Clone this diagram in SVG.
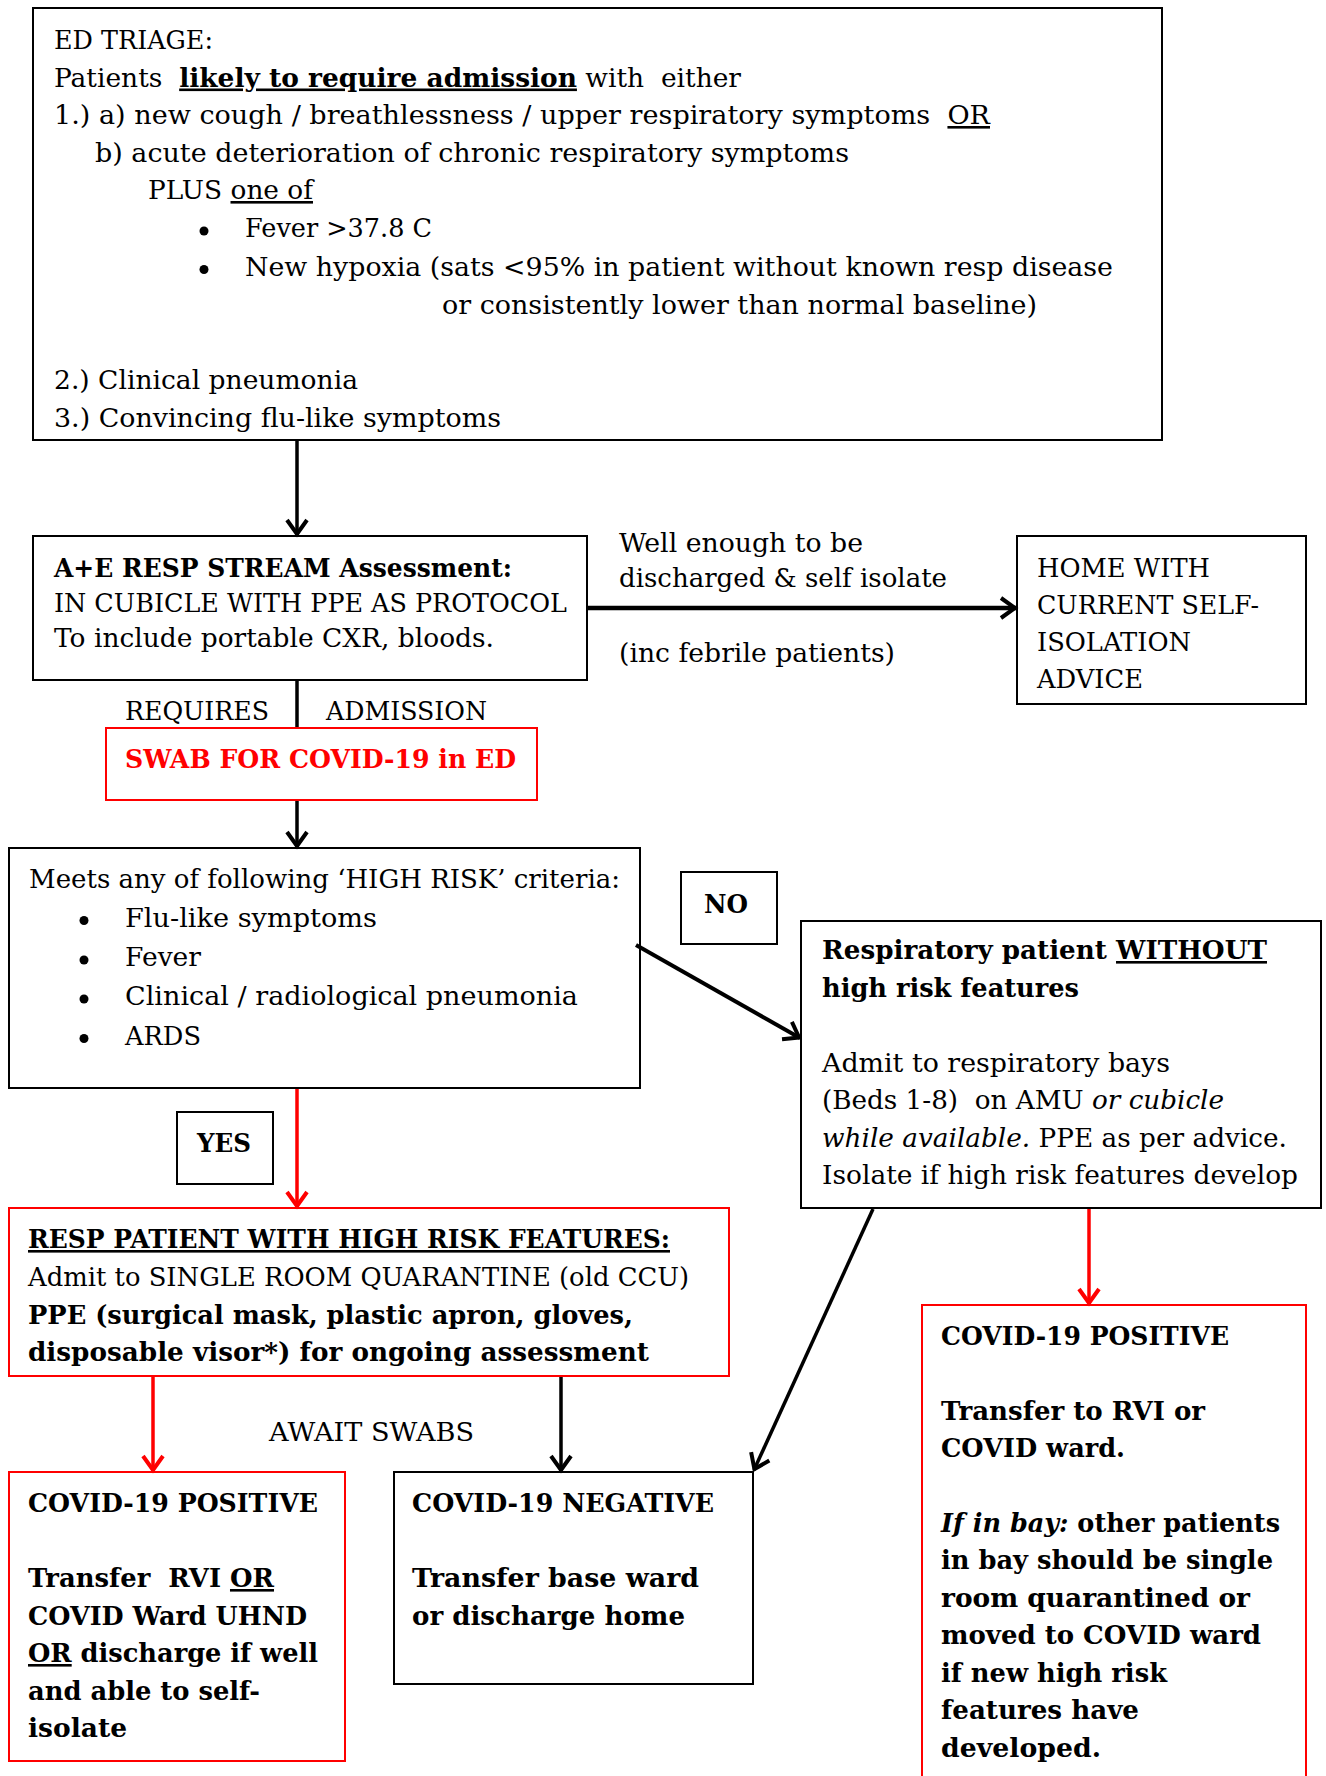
<svg xmlns="http://www.w3.org/2000/svg" width="1326" height="1776" viewBox="0 0 1326 1776">
<style>
.t{font-family:"DejaVu Serif","Liberation Serif",serif;font-size:26px;fill:#000}
.b{font-weight:bold}
.u{text-decoration:underline}
.i{font-style:italic}
.red{fill:#ff0000}
.box{fill:#fff;stroke:#000;stroke-width:2}
.rbox{fill:#fff;stroke:#ff0000;stroke-width:2}
.ln{fill:none;stroke:#000;stroke-width:3.5}
.rln{fill:none;stroke:#ff0000;stroke-width:3.5}
</style>
<defs>
<marker id="ah" markerUnits="userSpaceOnUse" viewBox="-20 -14 24 28" markerWidth="24" markerHeight="28" refX="0" refY="0" orient="auto" overflow="visible">
<path d="M-15,-10 L-1,0 L-15,10" fill="none" stroke="#000" stroke-width="4"/>
</marker>
<marker id="ahr" markerUnits="userSpaceOnUse" viewBox="-20 -14 24 28" markerWidth="24" markerHeight="28" refX="0" refY="0" orient="auto" overflow="visible">
<path d="M-15,-10 L-1,0 L-15,10" fill="none" stroke="#ff0000" stroke-width="4"/>
</marker>
</defs>
<rect x="0" y="0" width="1326" height="1776" fill="#fff"/>

<g id="triage">
<rect class="box" x="33" y="8" width="1129" height="432"/>
<text class="t" x="54" y="49" textLength="159" lengthAdjust="spacingAndGlyphs">ED TRIAGE:</text>
<text class="t" x="54" y="86.5" textLength="687" lengthAdjust="spacingAndGlyphs" xml:space="preserve">Patients  <tspan class="b u">likely to require admission</tspan> with  either</text>
<text class="t" x="54" y="124" textLength="936" lengthAdjust="spacingAndGlyphs" xml:space="preserve">1.) a) new cough / breathlessness / upper respiratory symptoms  <tspan class="u">OR</tspan></text>
<text class="t" x="95" y="161.5" textLength="754" lengthAdjust="spacingAndGlyphs">b) acute deterioration of chronic respiratory symptoms</text>
<text class="t" x="148" y="199" textLength="165" lengthAdjust="spacingAndGlyphs" xml:space="preserve">PLUS <tspan class="u">one of</tspan></text>
<circle cx="204" cy="231" r="4.5" fill="#000"/>
<text class="t" x="245" y="237" textLength="187" lengthAdjust="spacingAndGlyphs">Fever &gt;37.8 C</text>
<circle cx="204" cy="269.5" r="4.5" fill="#000"/>
<text class="t" x="245" y="275.5" textLength="868" lengthAdjust="spacingAndGlyphs">New hypoxia (sats &lt;95% in patient without known resp disease</text>
<text class="t" x="442" y="313.5" textLength="595" lengthAdjust="spacingAndGlyphs">or consistently lower than normal baseline)</text>
<text class="t" x="54" y="389" textLength="304" lengthAdjust="spacingAndGlyphs">2.) Clinical pneumonia</text>
<text class="t" x="54" y="426.5" textLength="447" lengthAdjust="spacingAndGlyphs">3.) Convincing flu-like symptoms</text>
</g>

<g id="assessment">
<rect class="box" x="33" y="536" width="554" height="144"/>
<text class="t b" x="54" y="576.5" textLength="458" lengthAdjust="spacingAndGlyphs">A+E RESP STREAM Assessment:</text>
<text class="t" x="54" y="611.5" textLength="513" lengthAdjust="spacingAndGlyphs">IN CUBICLE WITH PPE AS PROTOCOL</text>
<text class="t" x="54" y="646.5" textLength="440" lengthAdjust="spacingAndGlyphs">To include portable CXR, bloods.</text>
</g>

<g id="home">
<rect class="box" x="1017" y="536" width="289" height="168"/>
<text class="t" x="1037" y="576.5" textLength="173" lengthAdjust="spacingAndGlyphs">HOME WITH</text>
<text class="t" x="1037" y="613.5" textLength="222" lengthAdjust="spacingAndGlyphs">CURRENT SELF-</text>
<text class="t" x="1037" y="651" textLength="154" lengthAdjust="spacingAndGlyphs">ISOLATION</text>
<text class="t" x="1037" y="688" textLength="106" lengthAdjust="spacingAndGlyphs">ADVICE</text>
</g>

<g id="swab">
<rect class="rbox" x="106" y="728" width="431" height="72"/>
<text class="t b red" x="125" y="768" textLength="391" lengthAdjust="spacingAndGlyphs">SWAB FOR COVID-19 in ED</text>
</g>

<g id="highrisk-criteria">
<rect class="box" x="9" y="848" width="631" height="240"/>
<text class="t" x="29" y="888" textLength="591" lengthAdjust="spacingAndGlyphs">Meets any of following ‘HIGH RISK’ criteria:</text>
<circle cx="84" cy="920.5" r="4.5" fill="#000"/>
<text class="t" x="125" y="926.5" textLength="252" lengthAdjust="spacingAndGlyphs">Flu-like symptoms</text>
<circle cx="84" cy="960" r="4.5" fill="#000"/>
<text class="t" x="125" y="966" textLength="76" lengthAdjust="spacingAndGlyphs">Fever</text>
<circle cx="84" cy="999" r="4.5" fill="#000"/>
<text class="t" x="125" y="1005" textLength="453" lengthAdjust="spacingAndGlyphs">Clinical / radiological pneumonia</text>
<circle cx="84" cy="1038.5" r="4.5" fill="#000"/>
<text class="t" x="125" y="1044.5" textLength="76" lengthAdjust="spacingAndGlyphs">ARDS</text>
</g>

<g id="no-label">
<rect class="box" x="681" y="872" width="96" height="72"/>
<text class="t b" x="704" y="912.5" textLength="44" lengthAdjust="spacingAndGlyphs">NO</text>
</g>

<g id="without-high-risk">
<rect class="box" x="801" y="921" width="520" height="287"/>
<text class="t b" x="822" y="959" textLength="445" lengthAdjust="spacingAndGlyphs" xml:space="preserve">Respiratory patient <tspan class="u">WITHOUT</tspan></text>
<text class="t b" x="822" y="996.5" textLength="257" lengthAdjust="spacingAndGlyphs">high risk features</text>
<text class="t" x="822" y="1071.5" textLength="348" lengthAdjust="spacingAndGlyphs">Admit to respiratory bays</text>
<text class="t" x="822" y="1109" textLength="402" lengthAdjust="spacingAndGlyphs" xml:space="preserve">(Beds 1-8)  on AMU <tspan class="i">or cubicle</tspan></text>
<text class="t" x="822" y="1146.5" textLength="465" lengthAdjust="spacingAndGlyphs"><tspan class="i">while available.</tspan> PPE as per advice.</text>
<text class="t" x="822" y="1184" textLength="476" lengthAdjust="spacingAndGlyphs">Isolate if high risk features develop</text>
</g>

<g id="yes-label">
<rect class="box" x="177" y="1112" width="96" height="72"/>
<text class="t b" x="197" y="1151.5" textLength="54" lengthAdjust="spacingAndGlyphs">YES</text>
</g>

<g id="with-high-risk">
<rect class="rbox" x="9" y="1208" width="720" height="168"/>
<text class="t b u" x="28" y="1248" textLength="642" lengthAdjust="spacingAndGlyphs">RESP PATIENT WITH HIGH RISK FEATURES:</text>
<text class="t" x="28" y="1286" textLength="661" lengthAdjust="spacingAndGlyphs">Admit to SINGLE ROOM QUARANTINE (old CCU)</text>
<text class="t b" x="28" y="1323.5" textLength="605" lengthAdjust="spacingAndGlyphs">PPE (surgical mask, plastic apron, gloves,</text>
<text class="t b" x="28" y="1361" textLength="621" lengthAdjust="spacingAndGlyphs">disposable visor*) for ongoing assessment</text>
</g>

<g id="positive-left">
<rect class="rbox" x="9" y="1472" width="336" height="289"/>
<text class="t b" x="28" y="1512" textLength="290" lengthAdjust="spacingAndGlyphs">COVID-19 POSITIVE</text>
<text class="t b" x="28" y="1587" textLength="246" lengthAdjust="spacingAndGlyphs" xml:space="preserve">Transfer  RVI <tspan class="u">OR</tspan></text>
<text class="t b" x="28" y="1624.5" textLength="279" lengthAdjust="spacingAndGlyphs">COVID Ward UHND</text>
<text class="t b" x="28" y="1662" textLength="290" lengthAdjust="spacingAndGlyphs"><tspan class="u">OR</tspan> discharge if well</text>
<text class="t b" x="28" y="1699.5" textLength="232" lengthAdjust="spacingAndGlyphs">and able to self-</text>
<text class="t b" x="28" y="1737" textLength="99" lengthAdjust="spacingAndGlyphs">isolate</text>
</g>

<g id="negative">
<rect class="box" x="394" y="1472" width="359" height="212"/>
<text class="t b" x="412" y="1512" textLength="302" lengthAdjust="spacingAndGlyphs">COVID-19 NEGATIVE</text>
<text class="t b" x="412" y="1587" textLength="287" lengthAdjust="spacingAndGlyphs">Transfer base ward</text>
<text class="t b" x="412" y="1624.5" textLength="273" lengthAdjust="spacingAndGlyphs">or discharge home</text>
</g>

<g id="positive-right">
<rect class="rbox" x="922" y="1305" width="384" height="500"/>
<text class="t b" x="941" y="1344.5" textLength="288" lengthAdjust="spacingAndGlyphs">COVID-19 POSITIVE</text>
<text class="t b" x="941" y="1419.5" textLength="264" lengthAdjust="spacingAndGlyphs">Transfer to RVI or</text>
<text class="t b" x="941" y="1457" textLength="184" lengthAdjust="spacingAndGlyphs">COVID ward.</text>
<text class="t b" x="941" y="1532" textLength="339" lengthAdjust="spacingAndGlyphs"><tspan class="i">If in bay:</tspan> other patients</text>
<text class="t b" x="941" y="1569" textLength="332" lengthAdjust="spacingAndGlyphs">in bay should be single</text>
<text class="t b" x="941" y="1606.5" textLength="309" lengthAdjust="spacingAndGlyphs">room quarantined or</text>
<text class="t b" x="941" y="1644" textLength="320" lengthAdjust="spacingAndGlyphs">moved to COVID ward</text>
<text class="t b" x="941" y="1681.5" textLength="226" lengthAdjust="spacingAndGlyphs">if new high risk</text>
<text class="t b" x="941" y="1719" textLength="198" lengthAdjust="spacingAndGlyphs">features have</text>
<text class="t b" x="941" y="1756.5" textLength="160" lengthAdjust="spacingAndGlyphs">developed.</text>
</g>

<g id="connectors">
<line class="ln" x1="297" y1="441" x2="297" y2="535" marker-end="url(#ah)"/>
<line class="ln" x1="588" y1="608" x2="1016" y2="608" style="stroke-width:4.5" marker-end="url(#ah)"/>
<text class="t" x="619" y="551.5" textLength="244" lengthAdjust="spacingAndGlyphs">Well enough to be</text>
<text class="t" x="619" y="587" textLength="328" lengthAdjust="spacingAndGlyphs">discharged &amp; self isolate</text>
<text class="t" x="619" y="662" textLength="276" lengthAdjust="spacingAndGlyphs">(inc febrile patients)</text>
<line class="ln" x1="297" y1="681" x2="297" y2="727"/>
<text class="t" x="125" y="720" textLength="144" lengthAdjust="spacingAndGlyphs">REQUIRES</text>
<text class="t" x="326" y="720" textLength="161" lengthAdjust="spacingAndGlyphs">ADMISSION</text>
<line class="ln" x1="297" y1="801" x2="297" y2="847" marker-end="url(#ah)"/>
<line class="ln" x1="636" y1="945" x2="800" y2="1038" style="stroke-width:4" marker-end="url(#ah)"/>
<line class="rln" x1="297" y1="1089" x2="297" y2="1207" marker-end="url(#ahr)"/>
<text class="t" x="269" y="1440.5" textLength="205" lengthAdjust="spacingAndGlyphs">AWAIT SWABS</text>
<line class="rln" x1="153" y1="1377" x2="153" y2="1471" marker-end="url(#ahr)"/>
<line class="ln" x1="561" y1="1377" x2="561" y2="1471" marker-end="url(#ah)"/>
<line class="ln" x1="873" y1="1209" x2="754" y2="1470" marker-end="url(#ah)"/>
<line class="rln" x1="1089" y1="1209" x2="1089" y2="1304" marker-end="url(#ahr)"/>
</g>
</svg>
